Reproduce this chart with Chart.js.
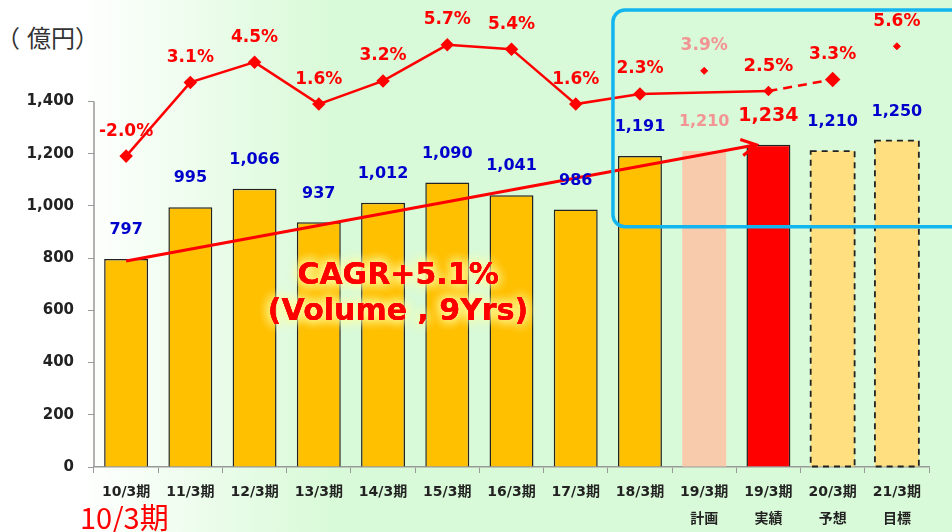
<!DOCTYPE html>
<html>
<head>
<meta charset="utf-8">
<script src="https://cdn.jsdelivr.net/npm/chart.js@4/dist/chart.umd.min.js"></script>
<style>
    html, body {
        margin: 0;
        padding: 0;
    }
    body {
        width: 952px;
        height: 532px;
        overflow: hidden;
        position: relative;
        background: linear-gradient(to right, #ffffff 0px, #ffffff 80px, #d9fad8 330px, #d9fad8 952px);
        font-family: "Noto Sans CJK JP", sans-serif;
    }
    #salesChart {
        position: absolute;
        left: 0;
        top: 0;
    }
    .unit {
        position: absolute;
        left: 3px;
        top: 21px;
        font-size: 24px;
        line-height: 1.3;
        color: #333;
        font-family: "Noto Sans CJK JP", sans-serif;
    }
    .unit .lp {
        position: relative;
        left: -7px;
    }
    .base-year {
        position: absolute;
        left: 80px;
        top: 498px;
        font-size: 29px;
        color: #ff0000;
        line-height: 1.3;
        font-family: "Noto Sans CJK JP", sans-serif;
    }
</style>
</head>
<body>
<div class="unit"><span class="lp">（</span>億円）</div>
<canvas id="salesChart" width="952" height="532"></canvas>
<div class="base-year">10/3期</div>

<script>
// Chart data
const periods = ['10/3期', '11/3期', '12/3期', '13/3期', '14/3期', '15/3期', '16/3期',
    '17/3期', '18/3期', '19/3期', '19/3期', '20/3期', '21/3期'];
const periodNotes = ['', '', '', '', '', '', '', '', '', '計画', '実績', '予想', '目標'];
const volume = [797, 995, 1066, 937, 1012, 1090, 1041, 986, 1191, 1210, 1234, 1210, 1250];
const growth = [-2.0, 3.1, 4.5, 1.6, 3.2, 5.7, 5.4, 1.6, 2.3, 3.9, 2.5, 3.3, 5.6];
const yTicks = [0, 200, 400, 600, 800, 1000, 1200, 1400];
const cagrText = ['CAGR+5.1%', '(Volume , 9Yrs)'];

// kind of each period: result / plan / actual / forecast
const kinds = ['r', 'r', 'r', 'r', 'r', 'r', 'r', 'r', 'r', 'plan', 'actual', 'fc', 'fc'];

const FONT = '"DejaVu Sans", "Noto Sans CJK JP", sans-serif';

document.addEventListener('DOMContentLoaded', function() {
    initChart();
});

function barColor(i) {
    const k = kinds[i];
    if (k === 'plan') return '#f8cbad';
    if (k === 'actual') return '#ff0000';
    if (k === 'fc') return '#ffdf80';
    return '#ffc000';
}

function barBorder(i) {
    const k = kinds[i];
    if (k === 'plan' || k === 'fc') return 0;
    return 1.5;
}

/**
 * Value axis line only over the tick range (the area itself is taller for the growth line)
 */
const axisLinePlugin = {
    id: 'axisLine',
    beforeDatasetsDraw(chart) {
        const ctx = chart.ctx;
        const y = chart.scales.y;
        const left = chart.chartArea.left;
        ctx.save();
        ctx.strokeStyle = '#999';
        ctx.lineWidth = 1.5;
        ctx.beginPath();
        ctx.moveTo(left, y.getPixelForValue(yTicks[0]));
        ctx.lineTo(left, y.getPixelForValue(yTicks[yTicks.length - 1]));
        ctx.stroke();
        ctx.restore();
    }
};

/**
 * Draws dashed bar outlines, value labels, growth labels, CAGR arrow and the blue box
 */
const overlayPlugin = {
    id: 'overlay',
    afterDatasetsDraw(chart) {
        const ctx = chart.ctx;
        const x = chart.scales.x;
        const y = chart.scales.y;
        const y2 = chart.scales.y2;
        const barMeta = chart.getDatasetMeta(0);

        ctx.save();

        // dashed outline for forecast bars
        barMeta.data.forEach((bar, i) => {
            if (kinds[i] !== 'fc') return;
            const w = bar.width;
            ctx.setLineDash([6, 5]);
            ctx.lineWidth = 1.8;
            ctx.strokeStyle = '#222';
            ctx.strokeRect(bar.x - w / 2, bar.y, w, bar.base - bar.y);
        });
        ctx.setLineDash([]);

        // CAGR arrow
        const x0 = x.getPixelForValue(0);
        const y0 = y.getPixelForValue(volume[0]) + 2;
        const x1 = x.getPixelForValue(10) - 12;
        const y1 = y.getPixelForValue(volume[10]);
        ctx.strokeStyle = '#ff0000';
        ctx.lineWidth = 3;
        ctx.beginPath();
        ctx.moveTo(x0, y0);
        ctx.lineTo(x1, y1);
        const ang = Math.atan2(y1 - y0, x1 - x0);
        ctx.moveTo(x1 - 17 * Math.cos(ang - 0.5), y1 - 17 * Math.sin(ang - 0.5));
        ctx.lineTo(x1, y1);
        ctx.lineTo(x1 - 17 * Math.cos(ang + 0.5), y1 - 17 * Math.sin(ang + 0.5));
        ctx.stroke();

        // CAGR text with a soft yellow glow
        const cx = x.getPixelForValue(4) + 15;
        ctx.font = 'bold 30px ' + FONT;
        ctx.textAlign = 'center';
        ctx.textBaseline = 'middle';
        cagrText.forEach((t, k) => {
            const ty = y.getPixelForValue(740) + 2 + k * 36;
            ctx.shadowColor = 'rgba(255, 255, 160, 1)';
            ctx.shadowBlur = 12;
            ctx.fillStyle = '#ff0000';
            for (let n = 0; n < 3; n++) ctx.fillText(t, cx, ty);
            ctx.shadowBlur = 0;
            ctx.fillText(t, cx, ty);
        });
        ctx.shadowColor = 'transparent';

        // bar value labels
        barMeta.data.forEach((bar, i) => {
            let color = '#0000cc';
            let size = 16;
            if (kinds[i] === 'plan') color = '#f29494';
            if (kinds[i] === 'actual') { color = '#ff0000'; size = 19; }
            ctx.font = 'bold ' + size + 'px ' + FONT;
            ctx.fillStyle = color;
            ctx.fillText(volume[i].toLocaleString('en-US'), bar.x, bar.y - 29);
        });

        // growth labels
        growth.forEach((g, i) => {
            let color = '#ff0000';
            let size = 17;
            if (kinds[i] === 'plan') color = '#f29494';
            if (kinds[i] === 'actual') size = 18;
            ctx.font = 'bold ' + size + 'px ' + FONT;
            ctx.fillStyle = color;
            ctx.fillText(g.toFixed(1) + '%', x.getPixelForValue(i), y2.getPixelForValue(g) - 25);
        });

        // blue highlight box
        const bx = x.getPixelForValue(8) - 27;
        const by = 10;
        const bw = chart.width + 20 - bx;
        const bh = y.getPixelForValue(920) - by;
        ctx.strokeStyle = '#13b5ef';
        ctx.lineWidth = 3.5;
        ctx.beginPath();
        ctx.roundRect(bx, by, bw, bh, 12);
        ctx.stroke();

        ctx.restore();
    }
};

/**
 * Initialize the volume chart
 */
function initChart() {
    const el = document.getElementById('salesChart');

    const labels = periods.map((p, i) => periodNotes[i] ? [p, periodNotes[i]] : p);

    // main growth line skips the plan point; 19/3 actual -> 20/3 forecast is dashed
    const lineData = growth.map((g, i) => (kinds[i] === 'plan' || i === growth.length - 1) ? null : g);
    const loneData = growth.map((g, i) => (kinds[i] === 'plan' || i === growth.length - 1) ? g : null);

    new Chart(el, {
        type: 'bar',
        data: {
            labels: labels,
            datasets: [{
                label: 'Volume',
                data: volume,
                yAxisID: 'y',
                order: 2,
                backgroundColor: volume.map((v, i) => barColor(i)),
                borderColor: '#222',
                borderWidth: volume.map((v, i) => barBorder(i)),
                barPercentage: 0.9,
                categoryPercentage: 0.76
            }, {
                type: 'line',
                label: 'Growth',
                data: lineData,
                yAxisID: 'y2',
                order: 0,
                clip: false,
                spanGaps: true,
                borderColor: '#ff0000',
                borderWidth: 2.5,
                pointStyle: 'rectRot',
                pointRadius: ctx => ctx.dataIndex === 10 ? 3.5 : (ctx.dataIndex === 11 ? 6 : 5),
                pointBackgroundColor: '#ff0000',
                pointBorderColor: '#ff0000',
                segment: {
                    borderDash: ctx => ctx.p0DataIndex === 10 ? [9, 6] : undefined
                }
            }, {
                type: 'line',
                label: 'Growth (points)',
                data: loneData,
                yAxisID: 'y2',
                order: 0,
                clip: false,
                showLine: false,
                pointStyle: 'rectRot',
                pointRadius: 3.5,
                pointBackgroundColor: '#ff0000',
                pointBorderColor: '#ff0000'
            }]
        },
        options: {
            responsive: false,
            animation: false,
            locale: 'en-US',
            layout: {
                padding: { top: 20, right: 23, left: 0, bottom: 0 }
            },
            plugins: {
                legend: { display: false },
                tooltip: { enabled: false }
            },
            scales: {
                x: {
                    grid: {
                        offset: true,
                        drawOnChartArea: false,
                        tickLength: 6,
                        color: '#999'
                    },
                    border: { color: '#999', width: 1.5 },
                    ticks: {
                        color: '#222',
                        padding: 6,
                        maxRotation: 0,
                        autoSkip: false,
                        font: { family: FONT, size: 14, weight: 'bold', lineHeight: 1.93 }
                    },
                    afterFit: function(scale) {
                        scale.height = 65;
                    }
                },
                y: {
                    // area runs from y=20 to 467; 1,400 sits at y=99
                    min: 0,
                    max: 1700.5,
                    afterBuildTicks: function(scale) {
                        scale.ticks = yTicks.map(v => ({ value: v }));
                    },
                    grid: {
                        drawOnChartArea: false,
                        tickLength: 6,
                        color: '#999'
                    },
                    border: { display: false },
                    ticks: {
                        color: '#222',
                        padding: 14,
                        font: { family: FONT, size: 15, weight: 'bold' },
                        callback: function(value) {
                            return value.toLocaleString('en-US');
                        }
                    },
                    afterFit: function(scale) {
                        scale.width = 94;
                    }
                },
                y2: {
                    display: false,
                    position: 'right',
                    min: -23.51,
                    max: 7.21
                }
            }
        },
        plugins: [axisLinePlugin, overlayPlugin]
    });
}
</script>
</body>
</html>
